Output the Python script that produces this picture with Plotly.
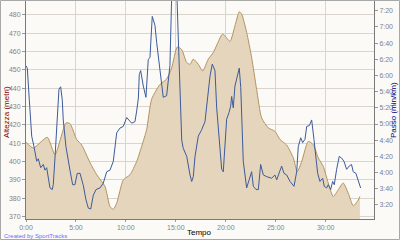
import plotly.graph_objects as go

# Elevation (metres) vs time (minutes)
elev_t = [0.0, 0.73, 2.13, 2.90, 4.0, 4.4, 5.08, 5.58, 6.41, 7.08, 7.91, 8.41, 8.74, 9.08, 9.74,
          10.41, 11.08, 11.58, 12.08, 12.58, 13.41, 14.08, 14.58, 15.15, 15.59, 16.09, 16.42, 16.75,
          17.25, 17.69, 18.25, 18.75, 19.59, 19.75, 20.42, 20.92, 21.35, 21.59, 22.09, 22.59, 23.09,
          23.59, 24.25, 24.92, 25.43, 26.10, 26.76, 27.16, 27.60, 28.26, 28.76, 29.26, 29.76, 30.26,
          30.76, 31.26, 31.76, 32.26, 32.76, 33.26, 33.43]
elev_v = [410.5, 407.4, 413.2, 403.8, 421, 420.7, 412, 409, 399.4, 392.8, 386.4, 375.5, 374, 377.3, 390,
          392.8, 400, 408.3, 417.5, 434, 442, 445, 451, 462.5, 461, 454, 453, 455.8,
          453, 449.4, 455.8, 459.4, 469, 469.4, 465.5, 474, 481.6, 480.4, 470.4, 456.7, 439.3,
          423.8, 418.4, 416.5, 412, 409, 402, 394.6, 400, 411, 409.2, 402, 397.4, 388.3,
          381, 384.6, 388.3, 382.8, 375.9, 379, 381]

# Pace (seconds per km) vs time (minutes)
pace_t = [0.0, 0.13, 0.33, 0.57, 0.80, 1.07, 1.23, 1.47, 1.73, 1.90, 2.07, 2.40, 2.63, 2.73, 2.90,
          3.07, 3.15, 3.30, 3.47, 3.63, 3.73, 3.85, 4.0, 4.40, 4.67, 4.90, 5.13, 5.41, 5.74, 6.01,
          6.24, 6.48, 6.74, 7.01, 7.41, 7.74, 8.08, 8.41, 8.74, 9.08, 9.41, 9.74, 10.08, 10.58,
          10.91, 11.08, 11.25, 11.34, 11.48, 11.74, 12.01, 12.24, 12.41, 12.64, 12.91, 13.08, 13.34,
          13.58, 13.74, 14.08, 14.41, 14.61, 14.76, 14.96, 15.08, 15.25, 15.41, 15.59, 15.74, 16.09,
          16.42, 16.59, 16.75, 16.92, 17.25, 17.59, 17.92, 18.15, 18.42, 18.65, 18.92, 19.09, 19.35,
          19.59, 19.75, 19.92, 20.09, 20.32, 20.49, 20.59, 20.75, 20.92, 21.15, 21.35, 21.50, 21.65,
          21.75, 22.09, 22.42, 22.59, 22.76, 23.03, 23.26, 23.49, 23.76, 24.09, 24.59, 24.92, 25.10,
          25.43, 25.59, 25.83, 26.10, 26.43, 26.83, 27.10, 27.26, 27.50, 27.70, 27.93, 28.10, 28.36,
          28.60, 28.83, 29.00, 29.20, 29.43, 29.70, 29.86, 30.10, 30.26, 30.50, 30.70, 30.86, 31.10,
          31.36, 31.59, 31.83, 32.10, 32.36, 32.59, 32.76, 33.03, 33.26, 33.50]
pace_v = [372, 369, 330, 285, 272, 254, 257, 246, 250, 243, 246, 221, 219, 225, 258,
          289, 308, 343, 346, 330, 305, 289, 272, 243, 225, 225, 239, 239, 224, 206,
          196, 195, 212, 219, 221, 227, 241, 243, 254, 289, 295, 297, 308, 301,
          303, 316, 332, 361, 366, 347, 333, 380, 382, 433, 422, 401, 372,
          347, 333, 335, 372, 470, 480, 480, 470, 405, 355, 280, 270, 260,
          237, 229, 235, 260, 285, 293, 303, 330, 359, 374, 366, 320, 285,
          244, 241, 268, 306, 314, 322, 334, 320, 347, 361, 369, 345, 295,
          254, 221, 235, 241, 223, 219, 219, 250, 237, 235, 233, 237, 231,
          241, 248, 239, 237, 229, 223, 241, 272, 283, 277, 281, 297, 298,
          305, 281, 262, 239, 229, 233, 223, 221, 225, 219, 229, 225, 244,
          260, 258, 254, 244, 248, 250, 241, 239, 229, 221]

x_ticks = [0, 5, 10, 15, 20, 25, 30]
x_labels = ["0:00", "5:00", "10:00", "15:00", "20:00", "25:00", "30:00"]
elev_ticks = [370, 380, 390, 400, 410, 420, 430, 440, 450, 460, 470, 480]
pace_ticks = [200, 220, 240, 260, 280, 300, 320, 340, 360, 380, 400, 420, 440]
pace_labels = ["3:20", "3:40", "4:00", "4:20", "4:40", "5:00", "5:20", "5:40",
               "6:00", "6:20", "6:40", "7:00", "7:20"]

BG = "#fbfaf6"
GRID = "#d9d5cd"
FONT = "Liberation Sans"

fig = go.Figure()
fig.add_trace(go.Scatter(x=elev_t, y=elev_v, mode="lines", fill="tozeroy",
                         line=dict(color="#b4935f", width=1, shape="spline", smoothing=0.6),
                         fillcolor="#e4d5bc", hoverinfo="skip", showlegend=False))
fig.add_trace(go.Scatter(x=pace_t, y=pace_v, mode="lines", yaxis="y2",
                         line=dict(color="#3d5b9b", width=1),
                         hoverinfo="skip", showlegend=False))

fig.update_layout(
    width=400, height=240,
    margin=dict(l=26, r=26, t=1, b=21),
    paper_bgcolor=BG, plot_bgcolor=BG,
    font=dict(family=FONT, size=7, color="#888888"),
    xaxis=dict(range=[0, 34.84], tickvals=x_ticks, ticktext=x_labels,
               showgrid=True, gridcolor=GRID, gridwidth=1, zeroline=False,
               showline=True, linecolor="#7a7a7a", linewidth=1,
               ticks="outside", ticklen=2, tickcolor="#999999",
               tickfont=dict(family=FONT, size=7, color="#858585")),
    yaxis=dict(range=[368.7, 487.5], tickvals=elev_ticks,
               showgrid=True, gridcolor=GRID, gridwidth=1, zeroline=False,
               showline=True, linecolor="#7a7a7a", linewidth=1,
               ticks="outside", ticklen=3, tickcolor="#999999",
               tickfont=dict(family=FONT, size=7, color="#8e7e7e")),
    yaxis2=dict(range=[182.6, 452], tickvals=pace_ticks, ticktext=pace_labels,
                overlaying="y", side="right", showgrid=False, zeroline=False,
                showline=True, linecolor="#7a7a7a", linewidth=1,
                ticks="outside", ticklen=3, tickcolor="#999999",
                tickfont=dict(family=FONT, size=7, color="#7e7e90")),
)

pw, ph = 348, 218
fig.add_shape(type="rect", xref="paper", yref="paper",
              x0=-26 / pw + 0.5 / pw, x1=1 + 26 / pw - 0.5 / pw,
              y0=-21 / ph + 0.5 / ph, y1=1 + 1 / ph - 0.5 / ph,
              line=dict(color="#a8a8a8", width=1), layer="above")

fig.add_annotation(text="Altezza (metri)", xref="paper", yref="paper",
                   x=(7 - 26) / pw, y=(219 - 112) / ph, textangle=-90, showarrow=False,
                   xanchor="center", yanchor="middle",
                   font=dict(family=FONT, size=8, color="#800000"))
fig.add_annotation(text="Passo (min/km)", xref="paper", yref="paper",
                   x=(393 - 26) / pw, y=(219 - 110) / ph, textangle=-90, showarrow=False,
                   xanchor="center", yanchor="middle",
                   font=dict(family=FONT, size=8, color="#000080"))
fig.add_annotation(text="Tempo", xref="paper", yref="paper",
                   x=(199 - 26) / pw, y=(219 - 232) / ph, showarrow=False,
                   xanchor="center", yanchor="middle",
                   font=dict(family=FONT, size=8, color="#000000"))
fig.add_annotation(text="Created by SportTracks", xref="paper", yref="paper",
                   x=(2 - 26) / pw, y=(219 - 235.5) / ph, showarrow=False,
                   xanchor="left", yanchor="middle",
                   font=dict(family=FONT, size=6, color="#6a6aff"))

fig.write_html("out.html")
